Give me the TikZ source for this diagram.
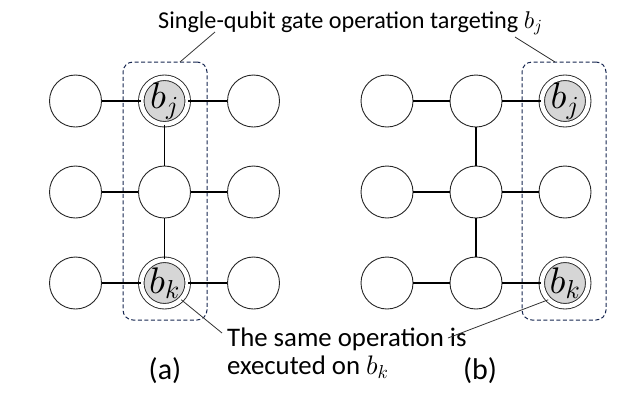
\RequirePackage{fix-cm}
\documentclass[tikz,border=0pt]{standalone}
\usepackage{fontspec}
\setmainfont{Carlito}
\usetikzlibrary{positioning}
\DeclareFontShape{OML}{cmm}{m}{it}{<-8.5>cmmi7 <8.5->cmmi10}{}
\definecolor{boxblue}{RGB}{22,38,80}
\definecolor{qgray}{RGB}{214,214,214}
\tikzset{
    qubit/.style = {circle, draw=black!85, line width=0.9pt, minimum size=52pt, inner sep=0pt},
    target/.style = {circle, draw=black!85, line width=0.9pt, double=white, double distance=4.6pt, fill=qgray, minimum size=46.5pt, inner sep=0pt, font=\fontsize{37}{37}\selectfont},
    gatebox/.style = {rectangle, draw=boxblue, line width=1pt, dash pattern=on 4pt off 2.5pt, rounded corners=10pt, minimum width=84pt, minimum height=258pt},
    edgen/.style = {line width=1.1pt, black},
    leader/.style = {line width=0.8pt, black!80},
    txt/.style = {font=\fontsize{24.2}{28}\selectfont, inner sep=0pt, align=left},
    txtb/.style = {font=\fontsize{26.8}{28}\selectfont, inner sep=0pt, align=left},
    caption/.style = {font=\fontsize{30}{30}\selectfont, inner sep=0pt}
}

\begin{document}
\begin{tikzpicture}[x=1pt,y=-1pt]
\useasboundingbox (0,0) rectangle (643,408);
% gate boxes
\node[gatebox] at (165.0, 191.0) (boxa) {};
\node[gatebox] at (564.0, 191.0) (boxb) {};
% panel (a)
\node[qubit]  at ( 75.5, 101.0) (a1) {};
\node[target] at (164.5, 101.0) (a2) {$b_j$};
\node[qubit]  at (253.5, 101.0) (a3) {};
\node[qubit]  at ( 75.5, 192.0) (a4) {};
\node[qubit]  at (164.5, 192.0) (a5) {};
\node[qubit]  at (253.5, 192.0) (a6) {};
\node[qubit]  at ( 75.5, 283.0) (a7) {};
\node[target] at (164.5, 283.0) (a8) {$b_k$};
\node[qubit]  at (253.5, 283.0) (a9) {};
% panel (b)
\node[qubit]  at (387.0, 101.0) (b1) {};
\node[qubit]  at (476.0, 101.0) (b2) {};
\node[target] at (565.0, 101.0) (b3) {$b_j$};
\node[qubit]  at (387.0, 192.0) (b4) {};
\node[qubit]  at (476.0, 192.0) (b5) {};
\node[qubit]  at (565.0, 192.0) (b6) {};
\node[qubit]  at (387.0, 283.0) (b7) {};
\node[qubit]  at (476.0, 283.0) (b8) {};
\node[target] at (565.0, 283.0) (b9) {$b_k$};
%
\draw[edgen] (a1) -- (a2);
\draw[edgen] (a2) -- (a3);
\draw[edgen] (a4) -- (a5);
\draw[edgen] (a5) -- (a6);
\draw[edgen] (a7) -- (a8);
\draw[edgen] (a8) -- (a9);
\draw[edgen] (a2) -- (a5);
\draw[edgen] (a5) -- (a8);
%
\draw[edgen] (b1) -- (b2);
\draw[edgen] (b2) -- (b3);
\draw[edgen] (b4) -- (b5);
\draw[edgen] (b5) -- (b6);
\draw[edgen] (b7) -- (b8);
\draw[edgen] (b8) -- (b9);
\draw[edgen] (b2) -- (b5);
\draw[edgen] (b5) -- (b8);
% texts
\node[txt, anchor=base west] at (158.0, 28.0) (top) {Single-qubit gate operation targeting $b_j$};
\node[txtb, anchor=north west] at (227.0, 328.0) (same) {The same operation is\\executed on $b_k$};
\node[caption, anchor=base] at (165.0, 379.0) (capa) {(a)};
\node[caption, anchor=base] at (480.0, 379.0) (capb) {(b)};
% leaders
\coordinate (ta) at (215.0, 32.0);
\coordinate (tb) at (515.0, 37.0);
\coordinate (la) at (180.0, 62.0);
\coordinate (lb) at (555.0, 62.0);
\coordinate (sa) at (222.0, 333.0);
\coordinate (sb) at (448.0, 338.0);
\draw[leader] (la) -- (ta);
\draw[leader] (lb) -- (tb);
\draw[leader] (a8.-45) -- (sa);
\draw[leader] (b9.-135) -- (sb);
\end{tikzpicture}
\end{document}
